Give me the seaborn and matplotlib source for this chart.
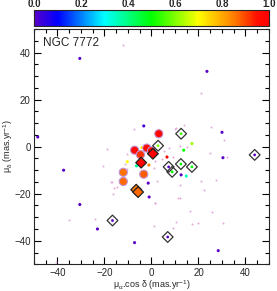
import numpy as np
import pandas as pd
import seaborn as sns
import matplotlib
matplotlib.use('Agg')
import matplotlib.pyplot as plt
from matplotlib.colors import LinearSegmentedColormap, Normalize
from matplotlib.ticker import MultipleLocator

# members drawn as circles (pmra, pmdec, probability)
circ_x = [3.1, -2.0, -7.2, -4.7, 0.0, -3.3, -12.0, -12.0]
circ_y = [5.5, -0.6, -1.5, -3.4, -1.8, -11.7, -10.9, -14.8]
circ_p = [0.98, 0.97, 0.97, 0.92, 0.98, 0.88, 0.86, 0.87]

# filled diamonds
fdia_x = [0.6, -4.4, -6.5, -5.7]
fdia_y = [-3.0, -6.8, -18.3, -19.3]
fdia_p = [1.0, 1.0, 0.85, 0.87]

# open diamonds with a small dot inside
odia_x = [12.6, 2.8, 7.3, 8.8, 12.5, 17.2, 43.9, 6.9, -16.6]
odia_y = [5.5, 0.4, -8.6, -10.7, -7.4, -8.6, -3.5, -38.4, -31.4]
odia_p = [0.55, 0.6, 0.0, 0.5, 0.5, 0.5, 0.0, 0.0, 0.0]

# small field stars coloured by probability
dot_x = [-30.5, -48.4, 23.6, 30.0, 30.4, -37.4, -30.5, -23.0, -7.2, -1.4, -1.0,
         12.6, 28.4, -3.3, -10.3, 17.2, 13.7, 14.8, 6.6, -6.4, -1.1, -4.1]
dot_y = [37.5, 4.1, 32.0, 6.1, -4.7, -10.0, -24.6, -35.0, -40.8, -15.5, -21.4,
         -12.0, -44.2, 8.8, -6.4, 1.3, -1.5, -12.5, -4.4, -8.2, -7.8, -0.4]
dot_p = [0.0, 0.0, 0.0, 0.0, 0.0, 0.0, 0.0, 0.0, 0.0, 0.0, 0.0,
         0.0, 0.0, 0.02, 0.7, 0.62, 0.5, 0.35, 1.0, 0.38, 0.85, 0.72]

# faint pink field stars
pink_x = [-12.0, -7.5, -18.8, 21.0, 25.3, 10.6, 13.7, 31.0, 7.3, 15.1, 12.3, 24.7,
          32.3, 9.2, 21.0, 22.2, 27.5, 12.0, 16.2, 25.7, 17.2, 20.0, 30.4, 11.3,
          1.7, 1.0, -20.6, -17.4, -16.2, -35.0, -23.9, -10.6, -10.6, -11.4, -16.7,
          -16.0, 1.7, 4.5, 5.2, 10.2, 1.0, 2.4, 12.0, 1.4, 10.6, 9.0, -14.8, -40.7]
pink_y = [43.4, 7.6, -1.1, 22.7, 8.5, 7.8, 9.2, 2.8, -0.7, -0.1, 0.3, -2.7,
          -4.4, -4.4, -14.8, -18.5, -14.2, -16.4, -27.2, -27.7, -32.9, -32.6, -32.6, -22.0,
          -24.0, -33.6, -8.3, -15.2, -20.3, -31.0, -30.8, -9.6, -3.0, -7.5, -15.2,
          -17.6, -6.1, -5.4, -1.8, 7.4, -8.9, -14.5, -21.9, -23.9, -31.9, -34.7, -17.0, -49.0]

cbar_ticks = [0.0, 0.2, 0.4, 0.6, 0.8, 1.0]
axis_ticks = [-40, -20, 0, 20, 40]

cmap = LinearSegmentedColormap.from_list('idl_rainbow', [
    (0.0, '#5a00c8'), (0.1, '#0000ff'), (0.3, '#00ffff'), (0.5, '#00ff00'),
    (0.7, '#ffff00'), (0.85, '#ff8000'), (0.95, '#ff1000'), (1.0, '#ff0000')])
norm = Normalize(0, 1)

sns.set_style('ticks')
plt.rcParams['font.family'] = ['Liberation Sans', 'DejaVu Sans']
plt.rcParams['mathtext.fontset'] = 'custom'
plt.rcParams['mathtext.rm'] = 'Liberation Sans'
plt.rcParams['mathtext.it'] = 'Liberation Sans'

fig = plt.figure(figsize=(2.77, 2.91), dpi=100)
ax = fig.add_axes([0.1227, 0.0918, 0.8484, 0.8085])
cax = fig.add_axes([0.1227, 0.9107, 0.8484, 0.055])

circ = pd.DataFrame({'x': circ_x, 'y': circ_y, 'p': circ_p})
fdia = pd.DataFrame({'x': fdia_x, 'y': fdia_y, 'p': fdia_p})
odia = pd.DataFrame({'x': odia_x, 'y': odia_y, 'p': odia_p})
dots = pd.DataFrame({'x': dot_x, 'y': dot_y, 'p': dot_p})
pink = pd.DataFrame({'x': pink_x, 'y': pink_y})

sns.scatterplot(data=pink, x='x', y='y', color='#e4a8d8', s=2, linewidth=0, ax=ax)
sns.scatterplot(data=dots, x='x', y='y', hue='p', palette=cmap, hue_norm=norm,
                s=5, linewidth=0, legend=False, ax=ax)
sns.scatterplot(data=circ, x='x', y='y', hue='p', palette=cmap, hue_norm=norm,
                s=34, edgecolor='#c090d0', linewidth=0.8, legend=False, ax=ax)
sns.scatterplot(data=odia, x='x', y='y', marker='D', facecolor='none',
                edgecolor='#333333', s=30, linewidth=0.9, legend=False, ax=ax)
sns.scatterplot(data=odia, x='x', y='y', hue='p', palette=cmap, hue_norm=norm,
                s=4, linewidth=0, legend=False, ax=ax)
sns.scatterplot(data=fdia, x='x', y='y', hue='p', palette=cmap, hue_norm=norm,
                marker='D', s=30, edgecolor='#222222', linewidth=0.9, legend=False, ax=ax)

ax.set_xlim(-50, 50)
ax.set_ylim(-50, 50)
ax.set_xticks(axis_ticks)
ax.set_yticks(axis_ticks)
ax.xaxis.set_minor_locator(MultipleLocator(5))
ax.yaxis.set_minor_locator(MultipleLocator(5))
ax.tick_params(which='both', direction='in', top=True, right=True, labelsize=7,
               width=0.8, color='black', pad=2.5)
ax.tick_params(which='major', length=5)
ax.tick_params(which='minor', length=3)
for s in ax.spines.values():
    s.set_linewidth(0.8)
ax.set_xlabel(r'$\mathrm{\mu_{\alpha}}$.cos $\mathrm{\delta}$ (mas.yr$^{-1}$)', fontsize=6.5, labelpad=0.5)
ax.set_ylabel(r'$\mathrm{\mu_{\delta}}$ (mas.yr$^{-1}$)', fontsize=6.5, labelpad=-1)
ax.text(-46, 44, 'NGC 7772', fontsize=8.5, va='center', ha='left')

sm = matplotlib.cm.ScalarMappable(norm=norm, cmap=cmap)
cb = fig.colorbar(sm, cax=cax, orientation='horizontal')
cb.outline.set_linewidth(0.8)
cax.xaxis.set_ticks_position('top')
cax.xaxis.set_label_position('top')
cb.set_ticks(cbar_ticks)
cax.set_xticklabels(['%.1f' % t for t in cbar_ticks], fontweight='bold')
cax.xaxis.set_minor_locator(MultipleLocator(0.1))
cax.tick_params(which='both', direction='in', labelsize=7, width=0.8, pad=0.5,
                top=True, bottom=True)
cax.tick_params(which='major', length=4)
cax.tick_params(which='minor', length=3)

fig.savefig('out.png', dpi=100)
